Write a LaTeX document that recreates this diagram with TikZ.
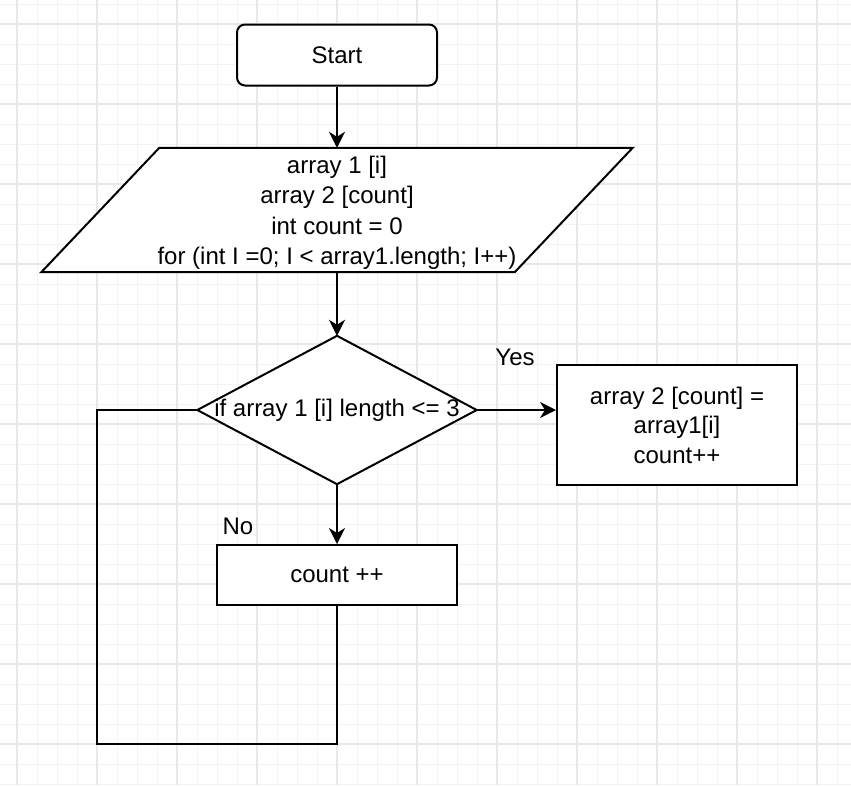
\documentclass[tikz,border=0pt]{standalone}
\usepackage{fontspec}
\setmainfont{Liberation Sans}
\usetikzlibrary{arrows.meta,calc}
\definecolor{gridminor}{HTML}{F3F3F3}
\definecolor{gridmajor}{HTML}{E8E8E8}
\tikzset{
  every node/.style={font=\fontsize{24}{29.5}\selectfont, align=center, inner sep=0pt},
  shapeline/.style={draw=black, line width=2pt, fill=white},
  procbox/.style={shapeline, rectangle, minimum width=240pt},
  textonly/.style={rectangle},
  conn/.style={line width=2pt, -{Stealth[length=16pt,width=16pt,inset=5pt]}},
  plainconn/.style={line width=2pt},
  minorgrid/.style={gridminor, line width=1pt},
  majorgrid/.style={gridmajor, line width=1.2pt},
}
\begin{document}
\begin{tikzpicture}[x=1pt,y=-1pt]
\useasboundingbox (0,0) rectangle (851,785);
\fill[white] (0,0) rectangle (851,785);
% grid
\foreach \x in {17,37,...,851} \draw[minorgrid] (\x,0) -- (\x,785);
\foreach \y in {4,24,...,785} \draw[minorgrid] (0,\y) -- (851,\y);
\foreach \x in {17,97,...,851} \draw[majorgrid] (\x,0) -- (\x,785);
\foreach \y in {24,104,...,785} \draw[majorgrid] (0,\y) -- (851,\y);

% nodes
\node[shapeline, rounded corners=8pt, minimum width=200pt, minimum height=61pt] (start) at (337,55) {Start};

\node[textonly, minimum width=473pt, minimum height=124pt] (io) at (337,210) {};
\draw[shapeline] ($(io.north west)+(59,0)$) -- ($(io.north east)+(59,0)$) -- ($(io.south east)+(-59,0)$) -- ($(io.south west)+(-59,0)$) -- cycle;
\node[font=\fontsize{24}{30.5}\selectfont] at ($(io.center)+(0,3)$) {array 1 [i]\\array 2 [count]\\int count = 0\\for (int I =0; I {<} array1.length; I++)};

\node[textonly, minimum width=279pt, minimum height=148pt] (dec) at (337,410) {};
\draw[shapeline] (dec.north) -- (dec.east) -- (dec.south) -- (dec.west) -- cycle;
\node at (dec.center) {if array 1 [i] length {<}= 3};

\node[procbox, minimum height=120pt] (yesbox) at (677,425) {array 2 [count] =\\array1[i]\\count++};
\node[procbox, minimum height=60pt] (cnt) at (337,575) {count ++};

\node (yeslbl) at (515,357) {Yes};
\node (nolbl) at (238,526) {No};

\coordinate (loopbl) at (97,744);

% connectors
\draw[conn] (start.south) -- (io.north);
\draw[conn] (io.south) -- (dec.north);
\draw[conn] (dec.east) -- (dec.east -| yesbox.west);
\draw[conn] (dec.south) -- (cnt.north);
\draw[plainconn] (cnt.south) |- (loopbl) |- (dec.west);
\end{tikzpicture}
\end{document}
